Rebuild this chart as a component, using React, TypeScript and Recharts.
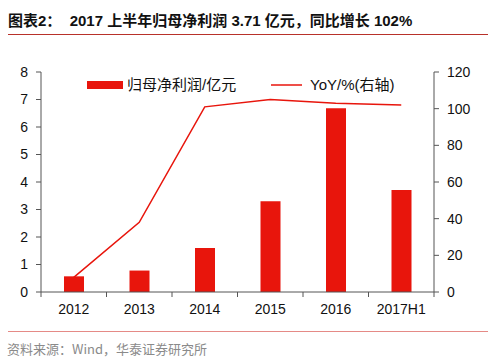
import React from 'react';
import { ComposedChart, Bar, Line, XAxis, YAxis, Legend } from 'recharts';

const categories = ['2012', '2013', '2014', '2015', '2016', '2017H1'];
const profitValues = [0.57, 0.78, 1.6, 3.3, 6.68, 3.71];
const yoyValues = [8, 38, 101, 105, 103, 102];
const leftTicks = [0, 1, 2, 3, 4, 5, 6, 7, 8];
const rightTicks = [0, 20, 40, 60, 80, 100, 120];

const data = categories.map((c, i) => ({ name: c, profit: profitValues[i], yoy: yoyValues[i] }));

const RED = '#e8150c';
const AXIS = '#555';
const NUM_FONT = '"Liberation Sans", Arial, sans-serif';
const CJK_FONT = '"Liberation Sans", "Noto Sans CJK SC", sans-serif';

const XTick = (props: any) => {
  const { x, y, payload, index, visibleTicksCount } = props;
  const half = payload && typeof payload.offset === 'number' ? payload.offset : 0;
  return (
    <g>
      <line x1={x - half} y1={y - 8} x2={x - half} y2={y - 3} stroke={AXIS} strokeWidth={1} />
      {index === visibleTicksCount - 1 && (
        <line x1={x + half} y1={y - 8} x2={x + half} y2={y - 3} stroke={AXIS} strokeWidth={1} />
      )}
      <text x={x} y={y + 14} textAnchor="middle" fontSize={14} fill="#111" fontFamily={NUM_FONT}>
        {payload.value}
      </text>
    </g>
  );
};

const LegendContent = () => (
  <svg width={330} height={20} style={{ overflow: 'visible' }}>
    <rect x={0} y={6} width={36} height={8} fill={RED} />
    <text x={40} y={15} fontSize={15} fill="#111" fontFamily={CJK_FONT}>归母净利润/亿元</text>
    <line x1={184} y1={10} x2={215} y2={10} stroke={RED} strokeWidth={1.5} />
    <text x={223} y={15} fontSize={15} fill="#111" fontFamily={CJK_FONT}>YoY/%(右轴)</text>
  </svg>
);

export default function App() {
  return (
    <div style={{ position: 'absolute', left: 0, top: 0, width: 500, height: 361, background: '#fff', overflow: 'hidden' }}>
      <div
        style={{
          position: 'absolute',
          left: 8,
          top: 12,
          fontFamily: '"Liberation Sans", "Noto Sans CJK SC", sans-serif',
          fontWeight: 'bold',
          fontSize: 15,
          color: '#111',
          whiteSpace: 'pre',
          lineHeight: '18px',
        }}
      >
        {'图表2：  2017 上半年归母净利润 3.71 亿元，同比增长 102%'}
      </div>
      <div style={{ position: 'absolute', left: 8, top: 34, width: 480, height: 1, background: '#b8312a' }} />
      <div style={{ position: 'absolute', left: 0, top: 0 }}>
        <ComposedChart
          width={500}
          height={361}
          data={data}
          margin={{ top: 72, right: 26, bottom: 39, left: 11 }}
          barCategoryGap="35%"
        >
          <XAxis
            dataKey="name"
            height={30}
            axisLine={{ stroke: AXIS }}
            tickLine={false}
            interval={0}
            tick={<XTick />}
          />
          <YAxis
            yAxisId="left"
            domain={[0, 8]}
            ticks={leftTicks}
            width={30}
            tickSize={5}
            tickMargin={8}
            axisLine={{ stroke: AXIS }}
            tickLine={{ stroke: AXIS }}
            tick={{ fontSize: 14, fill: '#111', fontFamily: NUM_FONT }}
            interval={0}
          />
          <YAxis
            yAxisId="right"
            orientation="right"
            domain={[0, 120]}
            ticks={rightTicks}
            width={40}
            tickSize={5}
            tickMargin={8}
            axisLine={{ stroke: AXIS }}
            tickLine={{ stroke: AXIS }}
            tick={{ fontSize: 14, fill: '#111', fontFamily: NUM_FONT }}
            interval={0}
          />
          <Legend
            layout="vertical"
            verticalAlign="middle"
            align="center"
            content={<LegendContent />}
            wrapperStyle={{ position: 'absolute', left: 87, top: 75, width: 330, height: 20 }}
          />
          <Bar yAxisId="left" dataKey="profit" name="归母净利润/亿元" fill={RED} barSize={20} isAnimationActive={false} />
          <Line
            yAxisId="right"
            dataKey="yoy"
            name="YoY/%(右轴)"
            type="linear"
            stroke={RED}
            strokeWidth={1.5}
            dot={false}
            activeDot={false}
            isAnimationActive={false}
          />
        </ComposedChart>
      </div>
      <div style={{ position: 'absolute', left: 8, top: 331, width: 480, height: 1, background: '#e58a86' }} />
      <div
        style={{
          position: 'absolute',
          left: 7,
          top: 340,
          fontFamily: '"Noto Sans CJK SC", sans-serif',
          fontSize: 13,
          color: '#8a8a8a',
          whiteSpace: 'pre',
          lineHeight: '18px',
        }}
      >
        {'资料来源：Wind，华泰证券研究所'}
      </div>
    </div>
  );
}
